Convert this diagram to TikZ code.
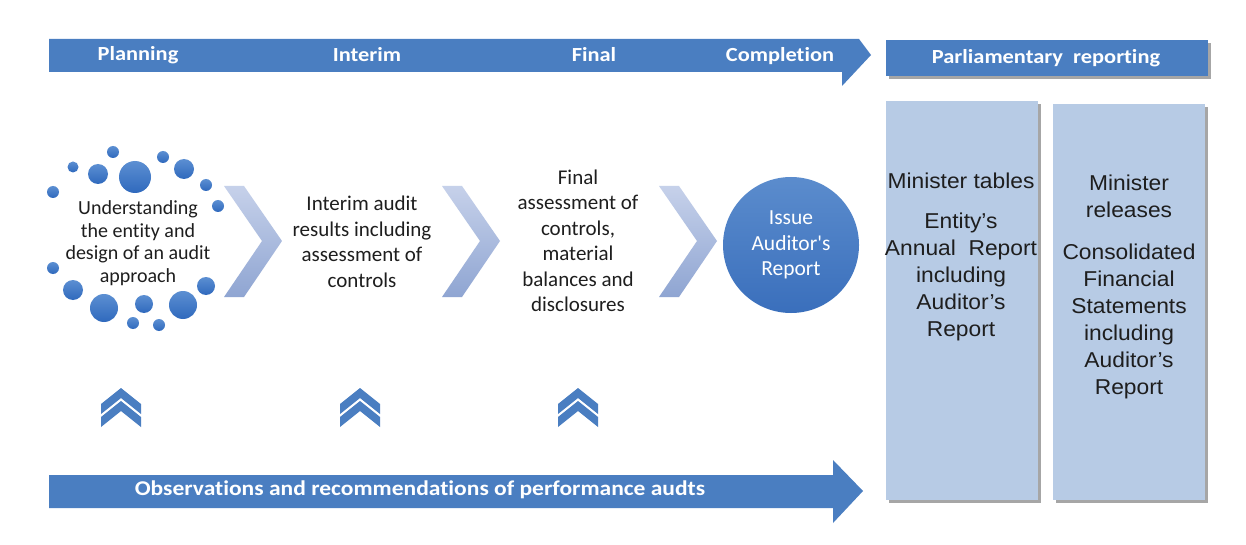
\documentclass[tikz,border=0pt]{standalone}
\usepackage{fontspec}
\setmainfont{Carlito}[Ligatures={TeX,NoCommon}]
\newfontfamily\hdrf{Carlito}[FakeStretch=1.12, Ligatures={TeX,NoCommon}]
\newfontfamily\plainf{Carlito}[Ligatures=NoCommon]
\newfontfamily\arialf{Liberation Sans}[FakeStretch=1.06]
\usetikzlibrary{shadows}
\definecolor{hdr}{HTML}{4A7EC1}
\definecolor{lbox}{HTML}{B7CBE5}
\definecolor{chevtop}{HTML}{C6D1EA}
\definecolor{chevbot}{HTML}{8FA5D2}
\definecolor{dottop}{HTML}{5C8FD2}
\definecolor{dotbot}{HTML}{2F69BD}
\definecolor{circtop}{HTML}{5B8CCD}
\definecolor{circbot}{HTML}{3A6FBC}
\definecolor{ink}{HTML}{1E1E1E}
\tikzset{
  hdrtxt/.style={text=white, font=\hdrf\bfseries\fontsize{20}{24}\selectfont, inner sep=0pt},
  midtxt/.style={text=ink, align=center, inner sep=0pt, font=\fontsize{21}{25.5}\selectfont},
  boxtxt/.style={text=ink, align=center, inner sep=0pt, font=\arialf\fontsize{21.5}{27}\selectfont},
  shadowed/.style={drop shadow={shadow xshift=3pt, shadow yshift=-3pt, fill=black, opacity=0.35}},
  dotball/.style={top color=dottop, bottom color=dotbot, draw=none},
  bigchev/.style={top color=chevtop, bottom color=chevbot, draw=none},
  upchev/.style={fill=hdr}
}
\begin{document}
\begin{tikzpicture}[x=1pt,y=-1pt]
\useasboundingbox (0,0) rectangle (1246,545);
\fill[white] (0,0) rectangle (1246,545);

% top phase arrow
\fill[hdr] (49,39) -- (859,39) -- (871,55) -- (842,86) -- (842,72) -- (49,72) -- cycle;
\node[hdrtxt] (planning) at (138,55) {Planning};
\node[hdrtxt] (interim) at (367,55) {Interim};
\node[hdrtxt] (final) at (594,55) {Final};
\node[hdrtxt] (completion) at (780,56) {Completion};

% parliamentary reporting header
\fill[hdr, shadowed] (886,40) rectangle (1208,76);
\node[hdrtxt] (parl) at (1046,58) {Parliamentary\ \ reporting};

% right boxes
\fill[lbox, shadowed] (886,101) rectangle (1038,500);
\fill[lbox, shadowed] (1053,104) rectangle (1205,500);
\node[boxtxt] (box1) at (961,257) {Minister tables\\[13pt]Entity’s\\Annual\ \ Report\\including\\Auditor’s\\Report};
\node[boxtxt] (box2) at (1129,287) {Minister\\releases\\[15pt]Consolidated\\Financial\\Statements\\including\\Auditor’s\\Report};

% dots around first step
\foreach \x/\y/\r in {113/152/6, 73/167/5.5, 98/174/10, 135/177/16, 163/157/6, 184/169/10,
  206/185/6, 218/206/6, 53/192/6, 53/268/6, 73/290/10, 104/308/14, 144/304/9,
  183/305/14, 206/286/9, 133/323/6, 159/325/6}
  \shade[dotball] (\x,\y) circle[radius=\r];

\node[midtxt, font=\fontsize{20}{22.6}\selectfont] (understand) at (138,243) {Understanding\\the entity and\\design of an audit\\approach};

% big chevrons
\shade[bigchev] (224,186) -- (244,186) -- (282,241) -- (244,297) -- (224,297) -- (262,241) -- cycle;
\shade[bigchev] (442,186) -- (462,186) -- (500,241) -- (462,297) -- (442,297) -- (480,241) -- cycle;
\shade[bigchev] (659,186) -- (679,186) -- (717,241) -- (679,297) -- (659,297) -- (697,241) -- cycle;

\node[midtxt] (interimtxt) at (362,242) {Interim audit\\results including\\assessment of\\controls};
\node[midtxt] (finaltxt) at (578,241) {Final\\assessment of\\controls,\\material\\balances and\\disclosures};

% issue circle
\node[circle, minimum size=136pt, inner sep=0pt, top color=circtop, bottom color=circbot,
  text=white, align=center, font=\plainf\fontsize{21.5}{25.5}\selectfont] (issue) at (791,245)
  {Issue\\Auditor's\\Report};

% up chevrons
\foreach \cx in {121,360,578}{
  \fill[upchev] (\cx-20,404) -- (\cx,388) -- (\cx+20,404) -- (\cx+20,414) -- (\cx,398) -- (\cx-20,414) -- cycle;
  \fill[upchev] (\cx-20,417) -- (\cx,401) -- (\cx+20,417) -- (\cx+20,427) -- (\cx,411) -- (\cx-20,427) -- cycle;
}

% bottom arrow
\fill[hdr] (49,475) -- (833,475) -- (833,460) -- (863,491) -- (833,523) -- (833,508) -- (49,508) -- cycle;
\node[hdrtxt, font=\hdrf\bfseries\fontsize{21}{25}\selectfont] (obs) at (420,490) {Observations and recommendations of performance audts};
\end{tikzpicture}
\end{document}
